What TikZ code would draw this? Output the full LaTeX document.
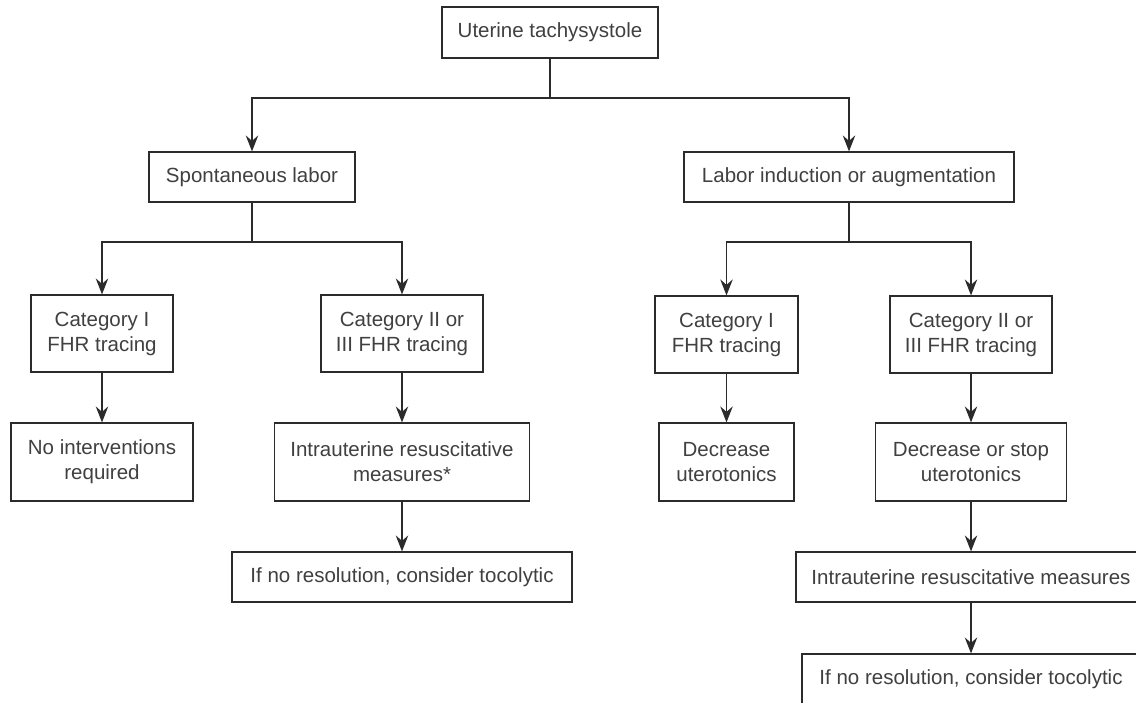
\documentclass[tikz,border=0pt]{standalone}
\usepackage{fontspec}
\setmainfont{Liberation Sans}
\usetikzlibrary{arrows.meta}
\definecolor{ink}{HTML}{2B2B2B}
\definecolor{txt}{HTML}{404040}
\tikzset{
  box/.style={draw=ink, line width=1.2pt, rectangle, inner sep=0pt, align=center,
    text=txt, font=\fontsize{20.5}{25}\selectfont},
  link/.style={draw=ink, line width=1.2pt},
  arr/.style={link, -{Stealth[length=16pt, width=12.5pt, inset=5.5pt]}}
}
\begin{document}
\begin{tikzpicture}[x=1pt, y=-1pt]
\useasboundingbox (0,0) rectangle (1136,702);
\fill[white] (0,0) rectangle (1136,702);
\clip (0,0) rectangle (1136,702);

\node[box, minimum width=216pt, minimum height=51pt] (top) at (550,32.5) {Uterine tachysystole};
\node[box, minimum width=206pt, minimum height=50pt] (sp) at (252,177) {Spontaneous labor};
\node[box, minimum width=330pt, minimum height=50pt] (li) at (849,177) {Labor induction or augmentation};

\node[box, minimum width=142pt, minimum height=77pt] (c1L) at (102,333.5) {Category I\\FHR tracing};
\node[box, minimum width=162pt, minimum height=77pt] (c2L) at (402,333.5) {Category II or\\III FHR tracing};
\node[box, minimum width=182pt, minimum height=78pt] (niL) at (102,462) {No interventions\\required};
\node[box, minimum width=255pt, minimum height=78pt] (irL) at (402,462) {Intrauterine resuscitative\\measures*};
\node[box, minimum width=340pt, minimum height=50pt] (tocL) at (402,577) {If no resolution, consider tocolytic};

\node[box, minimum width=143pt, minimum height=77pt] (c1R) at (726.5,334.5) {Category I\\FHR tracing};
\node[box, minimum width=162pt, minimum height=77pt] (c2R) at (971,334.5) {Category II or\\III FHR tracing};
\node[box, minimum width=135pt, minimum height=78pt] (dcR) at (726.5,462) {Decrease\\uterotonics};
\node[box, minimum width=191pt, minimum height=78pt] (dsR) at (971,462) {Decrease or stop\\uterotonics};
\node[box, minimum width=350pt, minimum height=50pt] (irR) at (971,577) {Intrauterine resuscitative measures};
\node[box, minimum width=338pt, minimum height=50pt] (tocR) at (971,679) {If no resolution, consider tocolytic};

\coordinate (j0) at (550,98);
\coordinate (j1) at (252,242);
\coordinate (j2) at (849,242);

\draw[link] (top.south) -- (j0);
\draw[arr] (j0) -| (sp.north);
\draw[arr] (j0) -| (li.north);

\draw[link] (sp.south) -- (j1);
\draw[arr] (j1) -| (c1L.north);
\draw[arr] (j1) -| (c2L.north);

\draw[link] (li.south) -- (j2);
\draw[arr] (j2) -| (c1R.north);
\draw[arr] (j2) -| (c2R.north);

\draw[arr] (c1L) -- (niL);
\draw[arr] (c2L) -- (irL);
\draw[arr] (irL) -- (tocL);

\draw[arr] (c1R) -- (dcR);
\draw[arr] (c2R) -- (dsR);
\draw[arr] (dsR) -- (irR);
\draw[arr] (irR) -- (tocR);
\end{tikzpicture}
\end{document}
